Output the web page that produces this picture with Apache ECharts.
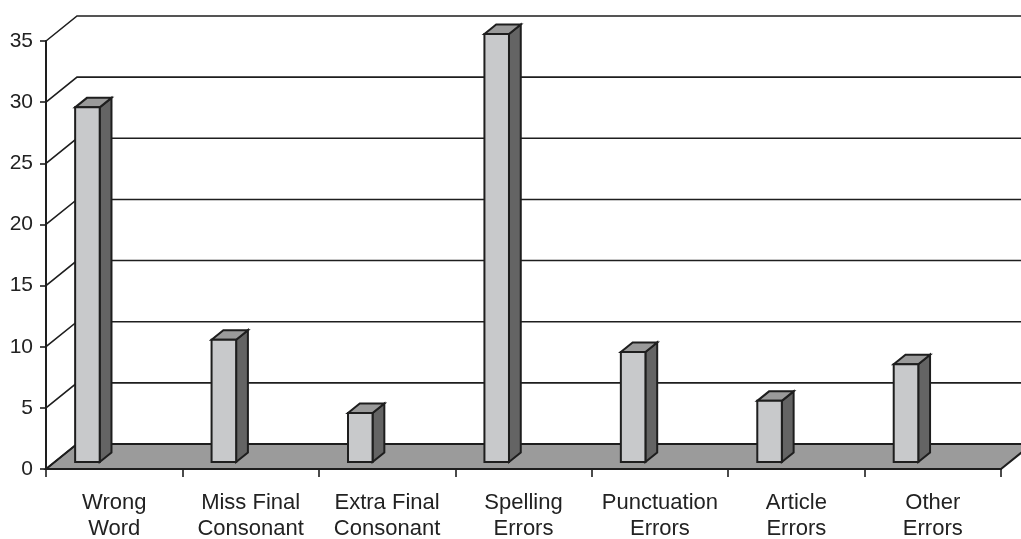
<!DOCTYPE html>
<html>
<head>
<meta charset="UTF-8">
<title>Error types</title>
<script src="https://cdn.jsdelivr.net/npm/echarts@6/dist/echarts.min.js"></script>
<style>
html, body { margin: 0; padding: 0; background: #fff; }
#main { width: 1021px; height: 539px; }
</style>
</head>
<body>
<div id="main"></div>
<script>
// data
var categories = ['Wrong\nWord', 'Miss Final\nConsonant', 'Extra Final\nConsonant', 'Spelling\nErrors',
	'Punctuation\nErrors', 'Article\nErrors', 'Other\nErrors'];
var errorCounts = [29, 10, 4, 35, 9, 5, 8];
var yTicks = [0, 5, 10, 15, 20, 25, 30, 35];

// 3d look: depth of the back wall, bar placement inside a band
var depthX = 31, depthY = -25;
var barShift = 0.28, barDepth = 0.38;
var barStart = 0.15, barWidth = 0.18;
var lineColor = '#1e1e1e';
var font = "'Liberation Sans', Arial, sans-serif";

var myChart = echarts.init(document.getElementById('main'));

// floor of the chart
function renderFloor(params, api) {
	var cs = params.coordSys;
	var y = api.coord([0, 0])[1];
	return {
		type: 'polygon',
		shape: { points: [[cs.x, y], [cs.x + cs.width, y], [cs.x + cs.width + depthX, y + depthY], [cs.x + depthX, y + depthY]] },
		style: { fill: '#9b9b9b', stroke: lineColor, lineWidth: 2 }
	};
}

// grid lines on the back wall
function renderGrid(params, api) {
	var cs = params.coordSys;
	var y = api.coord([0, api.value(1)])[1];
	return {
		type: 'polyline',
		shape: { points: [[cs.x, y], [cs.x + depthX, y + depthY], [cs.x + cs.width + depthX + 40, y + depthY]] },
		style: { fill: null, stroke: lineColor, lineWidth: 1.6 }
	};
}

// 3d bars
function renderBar(params, api) {
	var band = api.size([1, 0])[0];
	var base = api.coord([api.value(0), 0]);
	var top = api.coord([api.value(0), api.value(1)]);
	var x0 = base[0] - band / 2 + band * barStart + depthX * barShift;
	var x1 = x0 + band * barWidth;
	var yb = base[1] + depthY * barShift;
	var yt = top[1] + depthY * barShift;
	var ddx = depthX * barDepth, ddy = depthY * barDepth;
	var st = { stroke: lineColor, lineWidth: 2, lineJoin: 'miter' };
	return {
		type: 'group',
		children: [{
			type: 'polygon',
			shape: { points: [[x1, yb], [x1 + ddx, yb + ddy], [x1 + ddx, yt + ddy], [x1, yt]] },
			style: Object.assign({ fill: '#646464' }, st)
		}, {
			type: 'polygon',
			shape: { points: [[x0, yt], [x1, yt], [x1 + ddx, yt + ddy], [x0 + ddx, yt + ddy]] },
			style: Object.assign({ fill: '#9a9a9a' }, st)
		}, {
			type: 'polygon',
			shape: { points: [[x0, yb], [x1, yb], [x1, yt], [x0, yt]] },
			style: Object.assign({ fill: '#c8c9cb' }, st)
		}]
	};
}

var option = {
	animation: false,
	grid: { left: 46, right: 20, top: 41, bottom: 70, outerBoundsMode: 'none' },
	xAxis: {
		type: 'category',
		data: categories,
		boundaryGap: true,
		axisLine: { show: true, lineStyle: { color: lineColor, width: 2 } },
		axisTick: { show: true, length: 8, interval: 0, lineStyle: { color: lineColor, width: 1.6 } },
		axisLabel: { interval: 0, fontSize: 22, lineHeight: 26, margin: 21, color: '#222', fontFamily: font }
	},
	yAxis: {
		type: 'value',
		min: 0,
		max: 35,
		interval: 5,
		axisLine: { show: true, lineStyle: { color: lineColor, width: 2 } },
		axisTick: { show: true, length: 6, lineStyle: { color: lineColor, width: 1.6 } },
		splitLine: { show: false },
		axisLabel: { fontSize: 21, margin: 13, color: '#222', fontFamily: font }
	},
	series: [{
		type: 'custom',
		renderItem: renderFloor,
		data: [[0, 0]],
		z: 1
	}, {
		type: 'custom',
		renderItem: renderGrid,
		data: yTicks.map(function(v) { return [0, v]; }),
		z: 2
	}, {
		type: 'custom',
		renderItem: renderBar,
		encode: { x: 0, y: 1 },
		data: errorCounts.map(function(v, i) { return [i, v]; }),
		z: 3
	}]
};

myChart.setOption(option);
</script>
</body>
</html>
